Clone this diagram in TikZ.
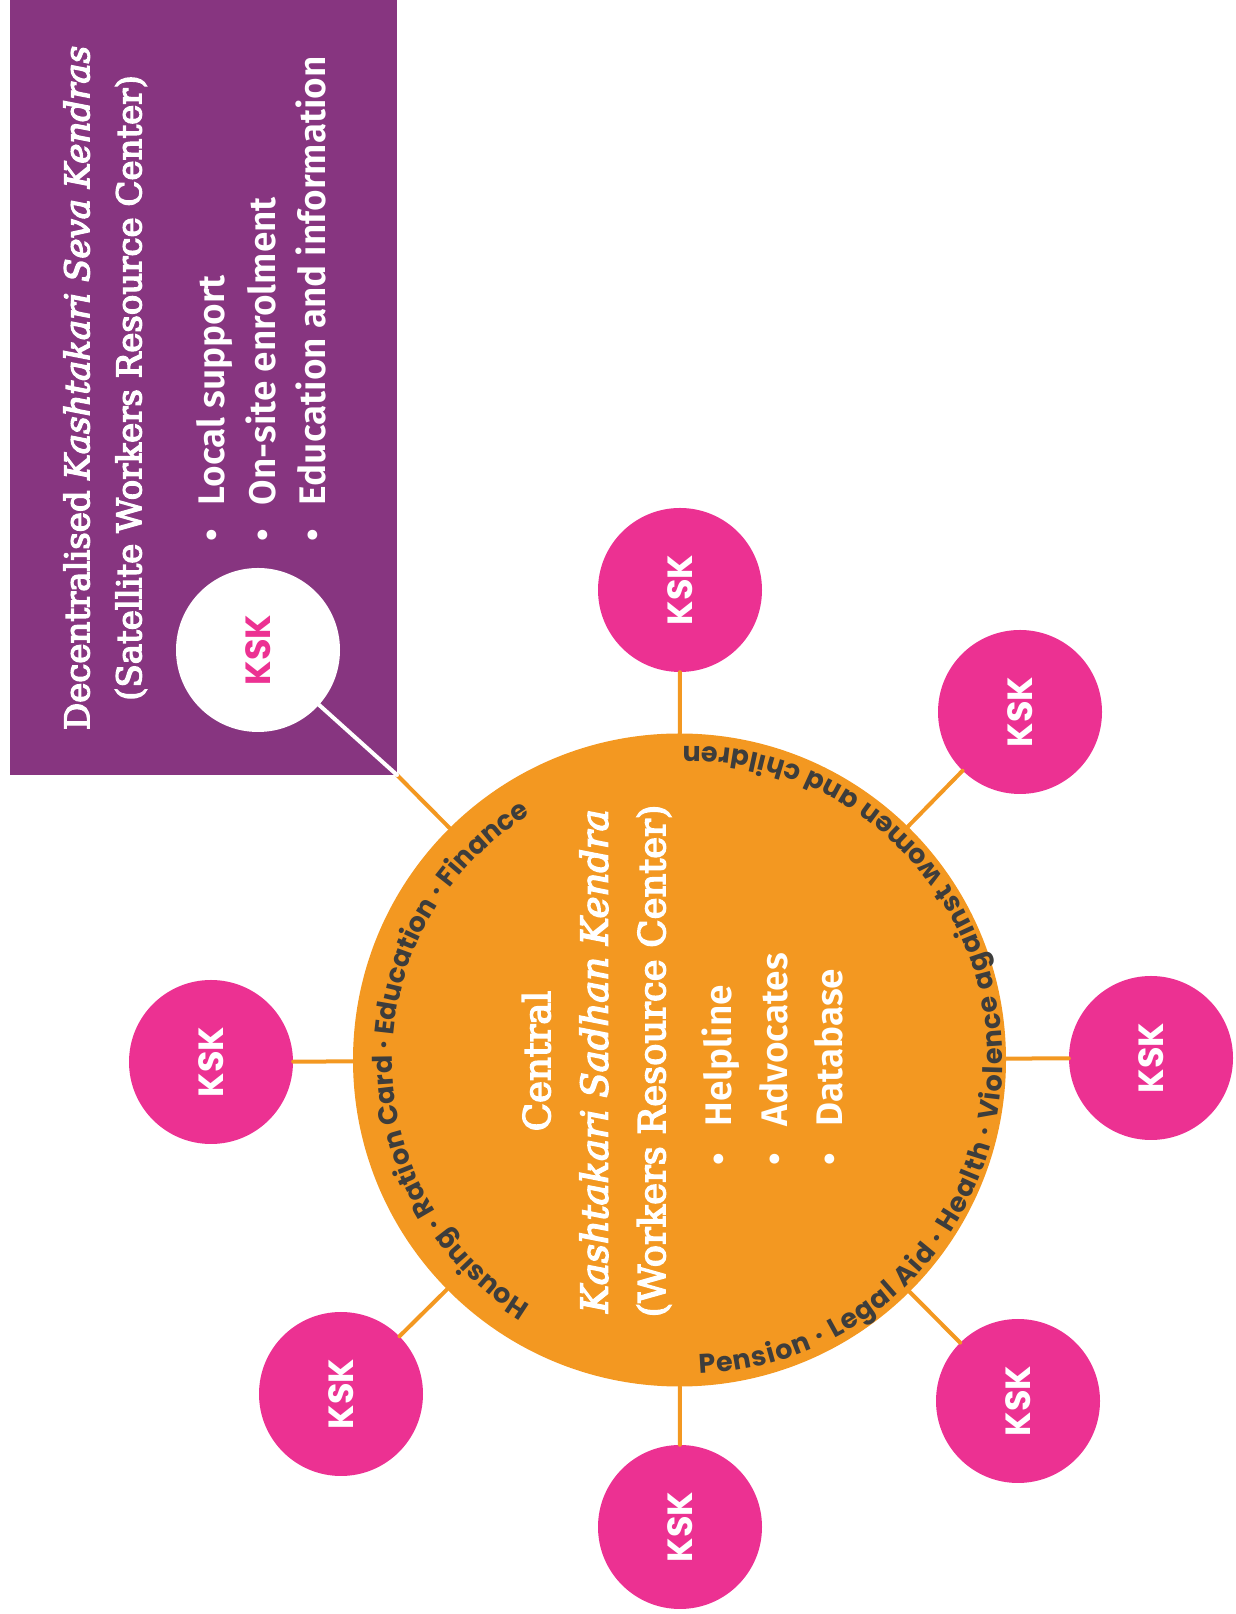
\documentclass[tikz,border=0pt]{standalone}
\usepackage{fontspec}
\setmainfont{DejaVu Serif}[FakeBold=4]
\newfontfamily\firafont{Fira Sans}[BoldFont={Fira Sans SemiBold}]
\newfontfamily\popfont{Poppins}
\usetikzlibrary{decorations.text}
\definecolor{kskpink}{HTML}{EC3192}
\definecolor{kskorange}{HTML}{F39821}
\definecolor{kskpurple}{HTML}{873580}
\definecolor{kskgray}{HTML}{3D3D3C}

\begin{document}
\begin{tikzpicture}[x=1pt,y=1pt,line cap=round,
	ksk/.style={circle,fill=kskpink,minimum size=164,inner sep=0,text=white,
		font=\popfont\bfseries\fontsize{35}{35}\selectfont,rotate=90},
	link/.style={kskorange,line width=4},
	ring/.style={decorate,decoration={text along path,text color=kskgray,text={#1}}}]
	\useasboundingbox (0,0) rectangle (1235,1614);
	\fill[kskpurple] (10,839) rectangle (397,1614);
	\path (397,839) coordinate (corner);
	\node[circle,fill=kskorange,minimum size=653,inner sep=0] (C) at (679.5,554) {};
	% satellites
	\foreach \n/\x/\y in {1/680/1024,2/1020/902,3/1151/556,4/1018/213,5/680/87,6/341/220,7/211/552}{
		\node[ksk] (k\n) at (\x,\y) {KSK};
		\draw[link] (C) -- (k\n);
		}
	\draw[link] (C) -- (corner);
	\node[ksk,fill=white,text=kskpink] (kw) at (258,964) {KSK};
	\draw[white,line width=4] (corner) -- (kw);
	% texts in the box
	\node[rotate=90,align=center,text=white,font=\fontsize{34}{52}\selectfont] (boxtitle) at (105,1226)
		{Decentralised \textit{Kashtakari Seva Kendras}\\(Satellite Workers Resource Center)};
	\node[rotate=90,anchor=west,align=left,inner sep=0,text=white,
		font=\firafont\bfseries\fontsize{37}{50.5}\selectfont] (boxlist) at (261.5,1072)
		{\textbullet\hspace{24pt}Local support\\\textbullet\hspace{24pt}On-site enrolment\\\textbullet\hspace{24pt}Education and information};
	% texts in the centre
	\node[rotate=90,align=center,text=white,font=\fontsize{37}{57.5}\selectfont] (ctitle) at (596.5,553)
		{Central\\\textit{Kashtakari Sadhan Kendra}\\(Workers Resource Center)};
	\node[rotate=90,anchor=west,align=left,inner sep=0,text=white,
		font=\firafont\bfseries\fontsize{37}{55.5}\selectfont] (clist) at (772.5,448)
		{\textbullet\hspace{27pt}Helpline\\\textbullet\hspace{27pt}Advocates\\\textbullet\hspace{27pt}Database};
	\path[ring={|\popfont\bfseries\fontsize{27}{27}\selectfont|Housing · Ration Card · Education · Finance},
		decoration={text align=center}]
		(C.center) ++(255:287) arc[start angle=255,end angle=105,radius=287];
	\path[ring={|\popfont\bfseries\fontsize{27}{27}\selectfont|Pension · Legal Aid · Health · Violence against women and children},
		decoration={text align=fit to path}]
		(688.5,554) ++(-88:314) arc[start angle=-88,end angle=91,radius=314];
\end{tikzpicture}
\end{document}
